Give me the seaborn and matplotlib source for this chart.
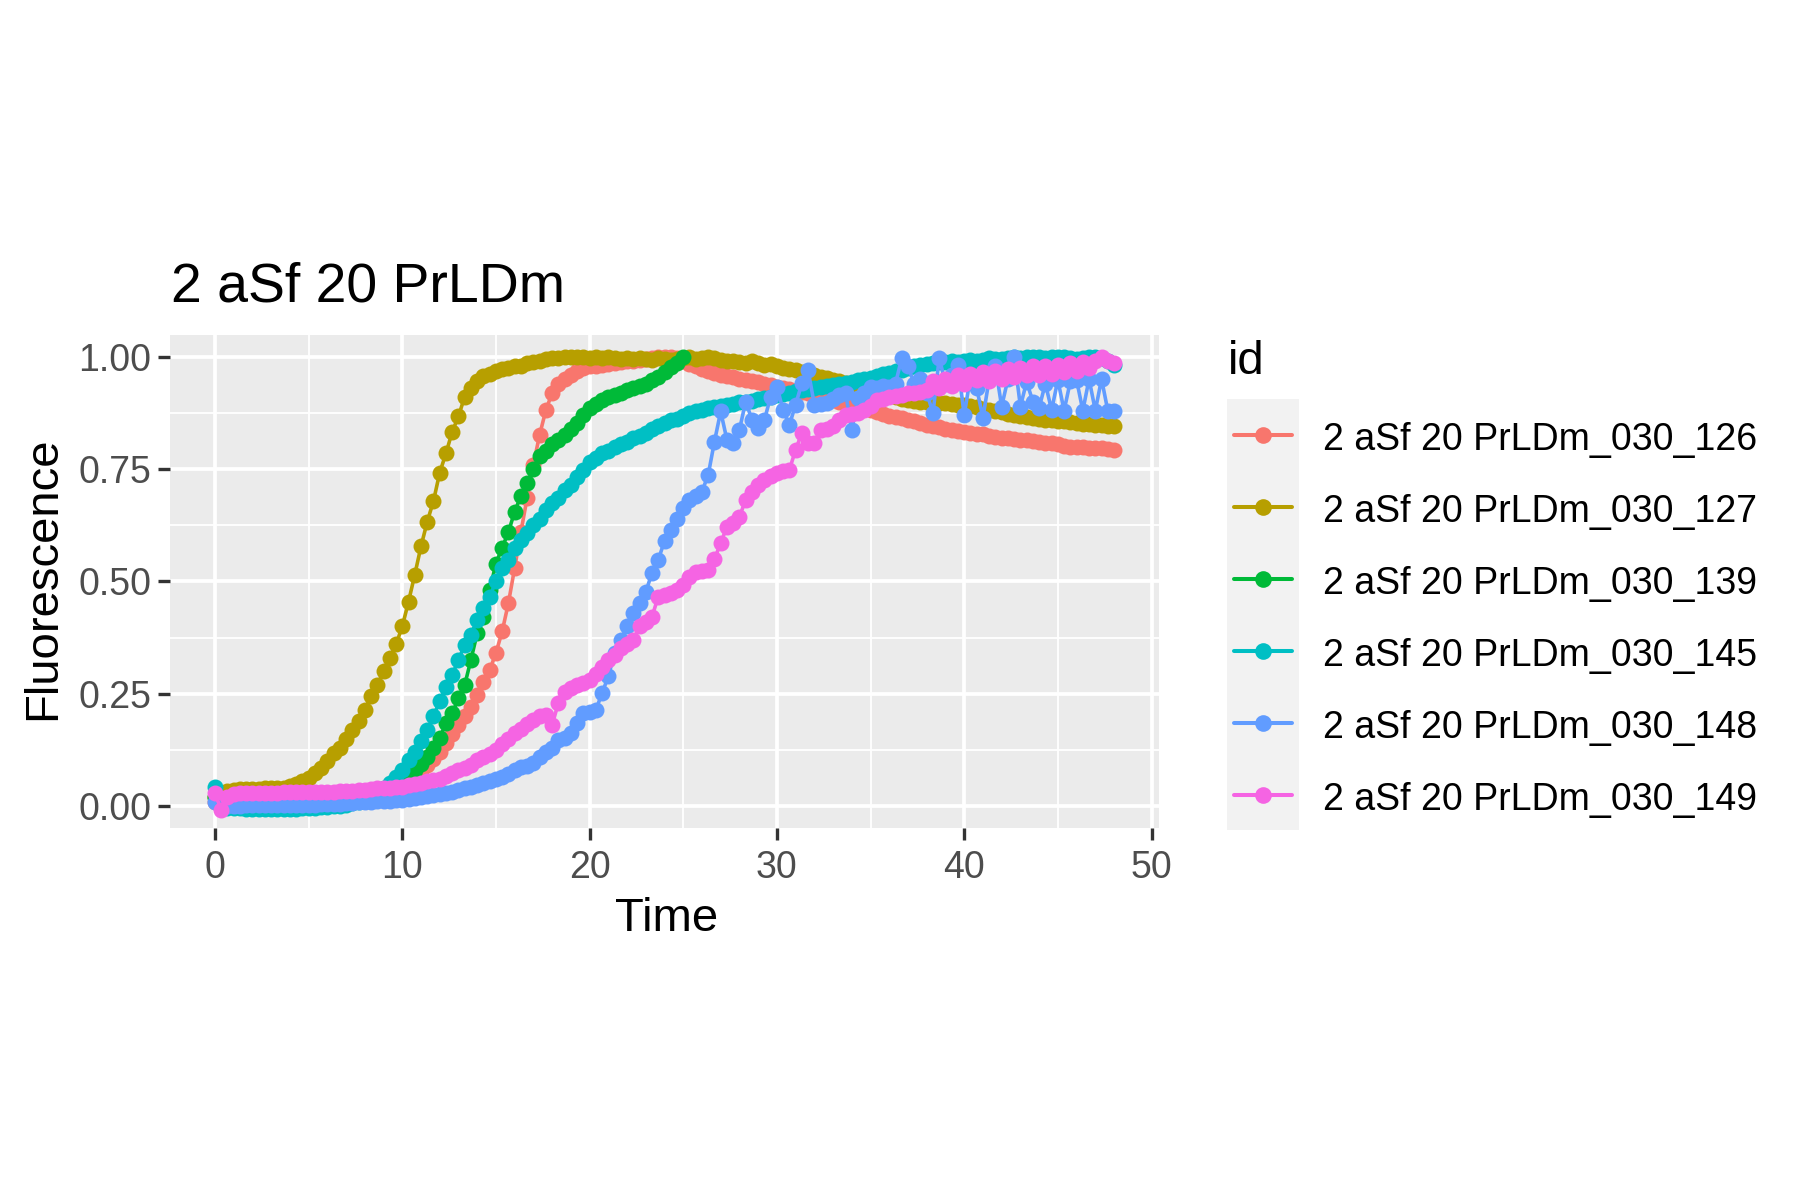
import numpy as np
import pandas as pd
import matplotlib.pyplot as plt
import seaborn as sns
from matplotlib.lines import Line2D
from matplotlib.patches import Rectangle

# sampling: one reading every 20 minutes
TIME_STEP = 1 / 3

IDS = ["2 aSf 20 PrLDm_030_126", "2 aSf 20 PrLDm_030_127", "2 aSf 20 PrLDm_030_139",
       "2 aSf 20 PrLDm_030_145", "2 aSf 20 PrLDm_030_148", "2 aSf 20 PrLDm_030_149"]
COLORS = ["#F8766D", "#B79F00", "#00BA38", "#00BFC4", "#619CFF", "#F564E3"]

# normalised fluorescence (3 readings per hour)
f126 = [0.01, 0.0, 0.004, 0.004, 0.004, 0.005, 0.005, 0.005, 0.005, 0.005, 0.005, 0.006,
        0.006, 0.006, 0.006, 0.007, 0.007, 0.008, 0.008, 0.009, 0.01, 0.011, 0.012, 0.014,
        0.016, 0.018, 0.021, 0.025, 0.03, 0.036, 0.044, 0.053, 0.064, 0.078, 0.092, 0.105,
        0.12, 0.14, 0.16, 0.18, 0.2, 0.222, 0.248, 0.277, 0.303, 0.341, 0.389, 0.452,
        0.53, 0.61, 0.686, 0.76, 0.826, 0.881, 0.919, 0.94, 0.95, 0.96, 0.968, 0.975,
        0.978, 0.98, 0.982, 0.984, 0.986, 0.988, 0.99, 0.991, 0.993, 0.995, 0.997, 0.998,
        1.0, 0.999, 0.997, 0.99, 0.984, 0.978, 0.972, 0.968, 0.963, 0.96, 0.957, 0.954,
        0.951, 0.948, 0.946, 0.943, 0.94, 0.936, 0.933, 0.93, 0.927, 0.924, 0.921, 0.918,
        0.915, 0.911, 0.908, 0.904, 0.9, 0.897, 0.893, 0.889, 0.885, 0.881, 0.877, 0.873,
        0.869, 0.866, 0.863, 0.86, 0.856, 0.852, 0.849, 0.846, 0.843, 0.84, 0.837, 0.835,
        0.833, 0.831, 0.829, 0.827, 0.824, 0.822, 0.82, 0.818, 0.816, 0.815, 0.814, 0.813,
        0.811, 0.809, 0.807, 0.805, 0.802, 0.8, 0.799, 0.798, 0.797, 0.796, 0.797, 0.794,
        0.793]

f127 = [0.02, 0.03, 0.035, 0.037, 0.038, 0.038, 0.039, 0.039, 0.04, 0.04, 0.041, 0.042,
        0.045, 0.05, 0.056, 0.064, 0.074, 0.085, 0.1, 0.118, 0.13, 0.15, 0.17, 0.19,
        0.215, 0.245, 0.27, 0.3, 0.33, 0.36, 0.4, 0.455, 0.515, 0.578, 0.633, 0.679,
        0.742, 0.785, 0.833, 0.867, 0.911, 0.93, 0.945, 0.956, 0.962, 0.968, 0.972, 0.975,
        0.978, 0.98, 0.986, 0.988, 0.99, 0.995, 0.997, 0.996, 0.998, 0.998, 0.999, 1.0,
        0.997, 0.999, 0.996, 0.998, 0.997, 0.995, 0.996, 0.994, 0.997, 0.995, 0.993, 0.996,
        0.994, 0.992, 0.995, 0.996, 0.998, 0.994, 0.997, 0.999, 0.996, 0.993, 0.99, 0.991,
        0.988, 0.986, 0.99, 0.985, 0.982, 0.984, 0.978, 0.975, 0.972, 0.97, 0.966, 0.962,
        0.958, 0.955, 0.952, 0.948, 0.945, 0.942, 0.94, 0.938, 0.935, 0.933, 0.928, 0.922,
        0.915, 0.91, 0.905, 0.903, 0.901, 0.9, 0.9, 0.898, 0.897, 0.896, 0.895, 0.893,
        0.892, 0.89, 0.888, 0.884, 0.881, 0.878, 0.876, 0.873, 0.87, 0.868, 0.866, 0.864,
        0.862, 0.86, 0.858, 0.857, 0.856, 0.855, 0.853, 0.851, 0.85, 0.849, 0.848, 0.846,
        0.845]

# this well stops at 25 h
f139 = [0.02, 0.01, 0.012, 0.013, 0.013, 0.013, 0.014, 0.014, 0.014, 0.014, 0.014, 0.015,
        0.015, 0.015, 0.015, 0.016, 0.016, 0.017, 0.017, 0.018, 0.019, 0.02, 0.022, 0.024,
        0.027, 0.03, 0.034, 0.039, 0.045, 0.052, 0.06, 0.07, 0.082, 0.095, 0.11, 0.13,
        0.152, 0.185, 0.207, 0.24, 0.27, 0.326, 0.385, 0.42, 0.48, 0.54, 0.575, 0.61,
        0.655, 0.69, 0.72, 0.75, 0.778, 0.79, 0.805, 0.815, 0.825, 0.84, 0.852, 0.87,
        0.885, 0.895, 0.904, 0.91, 0.915, 0.919, 0.925, 0.93, 0.935, 0.94, 0.948, 0.955,
        0.965, 0.976, 0.986, 1.0]

f145 = [0.044, 0.0, -0.004, -0.004, -0.004, -0.005, -0.005, -0.005, -0.005, -0.005, -0.005, -0.005,
        -0.005, -0.005, -0.004, -0.004, -0.003, -0.002, -0.001, 0.0, 0.002, 0.004, 0.007, 0.01,
        0.015, 0.022, 0.03, 0.04, 0.052, 0.066, 0.082, 0.103, 0.122, 0.145, 0.17, 0.2,
        0.235, 0.265, 0.292, 0.326, 0.359, 0.38, 0.415, 0.44, 0.466, 0.5, 0.53, 0.548,
        0.575, 0.592, 0.608, 0.625, 0.64, 0.66, 0.674, 0.685, 0.703, 0.715, 0.733, 0.748,
        0.765, 0.775, 0.785, 0.79, 0.798, 0.805, 0.81, 0.818, 0.824, 0.83, 0.838, 0.845,
        0.852, 0.858, 0.862, 0.868, 0.874, 0.878, 0.882, 0.886, 0.889, 0.891, 0.893, 0.895,
        0.898, 0.9, 0.902, 0.905, 0.908, 0.911, 0.914, 0.917, 0.92, 0.923, 0.926, 0.929,
        0.931, 0.933, 0.935, 0.937, 0.939, 0.941, 0.944, 0.947, 0.95, 0.952, 0.957, 0.961,
        0.964, 0.968, 0.971, 0.975, 0.978, 0.981, 0.983, 0.985, 0.987, 0.988, 0.99, 0.989,
        0.99, 0.992, 0.991, 0.993, 0.997, 0.995, 0.994, 0.996, 0.998, 0.997, 0.999, 1.0,
        0.998, 0.997, 0.999, 0.998, 1.0, 0.996, 0.994, 0.997, 0.999, 1.0, 0.996, 0.99,
        0.982]

f148 = [0.01, -0.003, 0.0, 0.002, 0.002, 0.003, 0.003, 0.003, 0.003, 0.003, 0.003, 0.003,
        0.003, 0.003, 0.004, 0.004, 0.004, 0.005, 0.005, 0.006, 0.006, 0.007, 0.008, 0.009,
        0.009, 0.01, 0.011, 0.012, 0.013, 0.014, 0.015, 0.017, 0.019, 0.021, 0.023, 0.025,
        0.028, 0.03, 0.033, 0.036, 0.04, 0.043, 0.047, 0.052, 0.056, 0.06, 0.065, 0.072,
        0.08, 0.088, 0.09, 0.096, 0.11, 0.122, 0.13, 0.148, 0.152, 0.163, 0.185, 0.207,
        0.21, 0.214, 0.252, 0.289, 0.341, 0.37, 0.4, 0.43, 0.452, 0.477, 0.519, 0.548,
        0.59, 0.615, 0.64, 0.663, 0.681, 0.69, 0.7, 0.737, 0.811, 0.878, 0.815, 0.808,
        0.837, 0.9, 0.86, 0.841, 0.859, 0.911, 0.933, 0.881, 0.848, 0.893, 0.941, 0.97,
        0.893, 0.895, 0.897, 0.905, 0.915, 0.919, 0.837, 0.908, 0.92, 0.933, 0.93, 0.935,
        0.933, 0.94, 0.997, 0.978, 0.94, 0.95, 0.92, 0.874, 0.997, 0.94, 0.96, 0.981,
        0.87, 0.955, 0.93, 0.864, 0.95, 0.978, 0.889, 0.95, 1.0, 0.889, 0.944, 0.9,
        0.886, 0.94, 0.881, 0.948, 0.88, 0.945, 0.948, 0.88, 0.95, 0.88, 0.95, 0.88,
        0.88]

f149 = [0.03, -0.008, 0.02, 0.028, 0.03, 0.03, 0.03, 0.03, 0.03, 0.03, 0.03, 0.031,
        0.031, 0.031, 0.031, 0.032, 0.032, 0.032, 0.033, 0.033, 0.034, 0.034, 0.035, 0.036,
        0.037, 0.038, 0.04, 0.041, 0.042, 0.043, 0.044, 0.047, 0.05, 0.053, 0.056, 0.059,
        0.062, 0.068, 0.074, 0.08, 0.086, 0.093, 0.103, 0.11, 0.117, 0.125, 0.138, 0.15,
        0.163, 0.172, 0.183, 0.192, 0.2, 0.203, 0.181, 0.23, 0.255, 0.263, 0.27, 0.275,
        0.281, 0.295, 0.311, 0.325, 0.337, 0.352, 0.36, 0.37, 0.4, 0.41, 0.422, 0.466,
        0.47, 0.474, 0.48, 0.492, 0.51, 0.522, 0.524, 0.526, 0.55, 0.585, 0.622, 0.63,
        0.644, 0.681, 0.7, 0.715, 0.726, 0.735, 0.741, 0.745, 0.748, 0.793, 0.83, 0.808,
        0.808, 0.837, 0.84, 0.845, 0.86, 0.87, 0.872, 0.875, 0.881, 0.89, 0.904, 0.905,
        0.911, 0.913, 0.915, 0.919, 0.92, 0.922, 0.926, 0.945, 0.93, 0.95, 0.935, 0.958,
        0.94, 0.962, 0.948, 0.965, 0.945, 0.968, 0.95, 0.972, 0.955, 0.975, 0.958, 0.978,
        0.96, 0.98, 0.962, 0.982, 0.965, 0.985, 0.968, 0.988, 0.975, 0.99, 1.0, 0.99,
        0.985]

SERIES = [f126, f127, f139, f145, f148, f149]

frames = []
for name, vals in zip(IDS, SERIES):
    frames.append(pd.DataFrame({"Time": np.arange(len(vals)) * TIME_STEP,
                                "Fluorescence": vals, "id": name}))
df = pd.concat(frames, ignore_index=True)

sns.set_theme(style="darkgrid", rc={"axes.facecolor": "#EBEBEB", "grid.color": "white"})
plt.rcParams["font.family"] = ["Liberation Sans", "DejaVu Sans"]

W, H = 1800, 1200
MS = 11.5   # marker size (pt)
LW = 2.6    # line width (pt)

fig = plt.figure(figsize=(18, 12), dpi=100)
fig.patch.set_facecolor("white")
# panel position in pixels: left 170, right 1159, top 335, bottom 828
ax = fig.add_axes([170 / W, 1 - 828 / H, (1159 - 170) / W, (828 - 335) / H])

sns.lineplot(data=df, x="Time", y="Fluorescence", hue="id", hue_order=IDS,
             palette=COLORS, marker="o", markersize=MS, markeredgewidth=0,
             linewidth=LW, estimator=None, sort=False, legend=False, ax=ax)

ax.set_xlim(-2.4, 50.4)
ax.set_ylim(-0.048, 1.048)
ax.set_xticks([0, 10, 20, 30, 40, 50])
ax.set_xticks([5, 15, 25, 35, 45], minor=True)
ax.set_yticks([0, 0.25, 0.5, 0.75, 1.0])
ax.set_yticklabels(["0.00", "0.25", "0.50", "0.75", "1.00"])
ax.set_yticks([0.125, 0.375, 0.625, 0.875], minor=True)
ax.grid(which="major", color="white", linewidth=2.7)
ax.grid(which="minor", color="white", linewidth=1.35)
for s in ax.spines.values():
    s.set_visible(False)
ax.tick_params(which="major", length=8.4, width=2.4, color="#333333",
               labelsize=27, labelcolor="#4D4D4D")
ax.tick_params(axis="x", pad=7.5)
ax.tick_params(axis="y", pad=5)
ax.tick_params(which="minor", length=0)
ax.tick_params(axis="x", bottom=True)
ax.tick_params(axis="y", left=True)
ax.set_xlabel("")
ax.set_ylabel("")

fig.text(171 / W, 1 - 302 / H, "2 aSf 20 PrLDm", fontsize=40, color="black",
         ha="left", va="baseline")
fig.text(667 / W, 1 - 931 / H, "Time", fontsize=34, color="black",
         ha="center", va="baseline")
fig.text(43 / W, 1 - 578 / H, "Fluorescence", fontsize=34, color="black",
         rotation=90, ha="center", va="center")

# legend drawn by hand: grey key column, line+dot keys, labels
fig.text(1228 / W, 1 - 374 / H, "id", fontsize=34, color="black", ha="left", va="baseline")
fig.add_artist(Rectangle((1227 / W, 1 - 830 / H), 72 / W, 431 / H,
                         transform=fig.transFigure, facecolor="#F2F2F2", edgecolor="none"))
key_y = [435, 507, 579, 651, 723, 795]
for yk, col, name in zip(key_y, COLORS, IDS):
    fig.add_artist(Line2D([1234 / W, 1292 / W], [1 - yk / H, 1 - yk / H],
                          transform=fig.transFigure, color=col, linewidth=LW + 0.3))
    fig.add_artist(Line2D([1263 / W], [1 - yk / H], transform=fig.transFigure,
                          color=col, marker="o", markersize=MS + 0.5, markeredgewidth=0))
    fig.text(1323 / W, 1 - (yk + 15) / H, name, fontsize=27, color="black",
             ha="left", va="baseline")

fig.savefig("out.png", dpi=100)
